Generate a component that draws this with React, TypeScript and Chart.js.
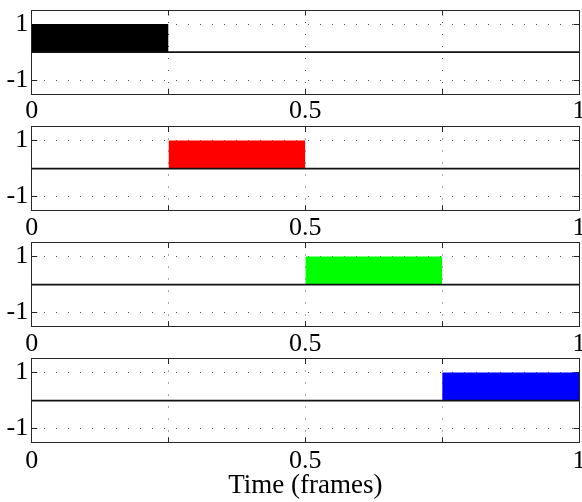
import React, { useEffect, useRef } from 'react';
import { Chart, registerables } from 'chart.js';

Chart.register(...registerables);

// ---- data ----
const pulseStarts = [0, 0.25, 0.5, 0.75];
const pulseEnds = [0.25, 0.5, 0.75, 1];
const pulseLevels = [1, 1, 1, 1];
const baselineXs = [0, 1];
const baselineYs = [0, 0];
const xTickValues = [0, 0.25, 0.5, 0.75, 1];
const xTickLabels = ['0', '', '0.5', '', '1'];
const yTickValues = [-1, 1];
const yTickLabels = ['-1', '1'];
const xRange = [0, 1];
const yRange = [-1.5, 1.5];
const xAxisTitle = 'Time (frames)';

// ---- style / layout ----
const PULSE_COLORS = ['#000000', '#ff0000', '#00ff00', '#0000ff'];
const W = 582;
const H = 502;
const PLOT_LEFT = 31.7;
const PLOT_RIGHT = 579;
const PLOT_TOPS = [10, 126.5, 242.5, 358.5];
const PLOT_H = 84.2;
const CANVAS_TOPS = [0, 116, 232, 349];
const AXIS_COLOR = '#262626';
const GRID_COLOR = '#555555';
const TICK_LEN = -5.5;
const FONT = "'Liberation Serif', 'Times New Roman', Times, serif";

const zeroPad = (s: any) => {
  s.paddingLeft = 0;
  s.paddingRight = 0;
  s.paddingTop = 0;
  s.paddingBottom = 0;
};

function Panel({ index }: { index: number }) {
  const ref = useRef<HTMLCanvasElement | null>(null);
  const last = index === PLOT_TOPS.length - 1;
  const top = CANVAS_TOPS[index];
  const height = last ? H - top : 134;

  useEffect(() => {
    if (!ref.current) return;
    const padTop = PLOT_TOPS[index] - top;
    const xh = height - padTop - PLOT_H;
    const setXTicks = (s: any) => {
      s.ticks = xTickValues.map((v) => ({ value: v }));
    };
    const setYTicks = (s: any) => {
      s.ticks = yTickValues.map((v) => ({ value: v }));
    };
    const xGridColor = (ctx: any) => {
      const v = ctx.tick ? ctx.tick.value : 0;
      return v > xRange[0] && v < xRange[1] ? GRID_COLOR : 'rgba(0,0,0,0)';
    };
    const chart = new Chart(ref.current, {
      type: 'line',
      data: {
        datasets: [
          {
            data: baselineXs.map((x, i) => ({ x, y: baselineYs[i] })),
            borderColor: '#111111',
            borderWidth: 1.8,
            pointRadius: 0,
            fill: false,
            xAxisID: 'x',
            yAxisID: 'y',
          },
          {
            data: [
              { x: pulseStarts[index], y: pulseLevels[index] },
              { x: pulseEnds[index], y: pulseLevels[index] },
            ],
            borderColor: 'rgba(0,0,0,0)',
            borderWidth: 0,
            backgroundColor: PULSE_COLORS[index],
            pointRadius: 0,
            fill: 'origin',
            xAxisID: 'x',
            yAxisID: 'y',
          },
        ],
      },
      options: {
        responsive: false,
        animation: false,
        events: [],
        layout: { padding: { top: padTop, left: 0, right: W - PLOT_RIGHT, bottom: 0 } },
        plugins: {
          legend: { display: false },
          tooltip: { enabled: false },
          title: { display: false },
        },
        scales: {
          x: {
            type: 'linear',
            position: 'bottom',
            min: xRange[0],
            max: xRange[1],
            afterBuildTicks: setXTicks,
            afterFit: (s: any) => {
              s.height = xh;
              zeroPad(s);
            },
            ticks: {
              autoSkip: false,
              maxRotation: 0,
              minRotation: 0,
              padding: last ? 10.6 : 9.8,
              color: '#000',
              font: { family: FONT, size: 26, lineHeight: 1 },
              callback: (value: any) => {
                const i = xTickValues.indexOf(Number(value));
                return i >= 0 ? xTickLabels[i] : '';
              },
            },
            grid: {
              color: xGridColor,
              lineWidth: 1,
              drawTicks: true,
              tickLength: TICK_LEN,
              tickColor: AXIS_COLOR,
              tickWidth: 1,
            },
            border: { display: true, color: AXIS_COLOR, width: 1, dash: [1, 11] },
            title: {
              display: last,
              text: xAxisTitle,
              color: '#000',
              font: { family: FONT, size: 27, lineHeight: 0.9 },
              padding: { top: 0, bottom: 3.5 },
            },
          },
          x2: {
            type: 'linear',
            position: 'top',
            min: xRange[0],
            max: xRange[1],
            afterBuildTicks: setXTicks,
            afterFit: (s: any) => {
              s.height = 0;
              zeroPad(s);
            },
            ticks: { display: false },
            grid: {
              drawOnChartArea: false,
              drawTicks: true,
              tickLength: TICK_LEN,
              tickColor: AXIS_COLOR,
              tickWidth: 1,
            },
            border: { display: true, color: AXIS_COLOR, width: 1 },
          },
          y: {
            type: 'linear',
            position: 'left',
            min: yRange[0],
            max: yRange[1],
            afterBuildTicks: setYTicks,
            afterFit: (s: any) => {
              s.width = PLOT_LEFT;
              zeroPad(s);
            },
            ticks: {
              padding: 9,
              color: '#000',
              font: { family: FONT, size: 26, lineHeight: 1 },
              callback: (value: any) => {
                const i = yTickValues.indexOf(Number(value));
                return i >= 0 ? yTickLabels[i] : '';
              },
            },
            grid: {
              color: GRID_COLOR,
              lineWidth: 1,
              drawTicks: true,
              tickLength: TICK_LEN,
              tickColor: AXIS_COLOR,
              tickWidth: 1,
            },
            border: { display: true, color: AXIS_COLOR, width: 1, dash: [1, 11] },
          },
          y2: {
            type: 'linear',
            position: 'right',
            min: yRange[0],
            max: yRange[1],
            afterBuildTicks: setYTicks,
            afterFit: (s: any) => {
              s.width = 0;
              zeroPad(s);
            },
            ticks: { display: false },
            grid: {
              drawOnChartArea: false,
              drawTicks: true,
              tickLength: TICK_LEN,
              tickColor: AXIS_COLOR,
              tickWidth: 1,
            },
            border: { display: true, color: AXIS_COLOR, width: 1 },
          },
        },
      } as any,
    });
    return () => chart.destroy();
  }, [index]);

  return (
    <canvas
      ref={ref}
      width={W}
      height={height}
      style={{ position: 'absolute', left: 0, top, width: W, height, display: 'block' }}
    />
  );
}

export default function App() {
  return (
    <div style={{ position: 'absolute', left: 0, top: 0, width: W, height: H, background: '#fff', overflow: 'hidden' }}>
      {PULSE_COLORS.map((_, i) => (
        <Panel key={i} index={i} />
      ))}
    </div>
  );
}
